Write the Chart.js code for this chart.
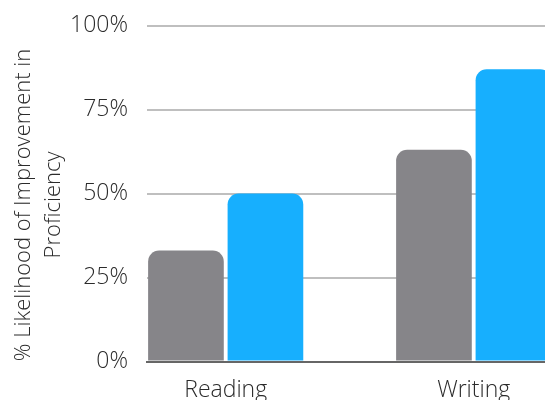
<!DOCTYPE html>
<html>
<head>
<meta charset="utf-8">
<script src="https://cdn.jsdelivr.net/npm/chart.js@4"></script>
<style>
  html, body { margin: 0; padding: 0; overflow: hidden; background: #fff; }
  #wrap { width: 545px; height: 400px; overflow: hidden; }
</style>
</head>
<body>
<div id="wrap"><canvas id="chart" width="600" height="400"></canvas></div>
<script>
// categories and values
const categories = ['Reading', 'Writing'];
const grayValues = [33, 63];
const blueValues = [50, 87];
const yTicks = [0, 25, 50, 75, 100];

const textColor = '#2b2b2b';
const fontFamily = '"Open Sans", "Noto Sans", sans-serif';

// bars sit on a linear x axis so the plot can start at the y axis
const toPoints = vals => vals.map((v, i) => ({ x: i, y: v }));

new Chart(document.getElementById('chart'), {
    type: 'bar',
    data: {
        datasets: [
            {
                label: 'Group A',
                data: toPoints(grayValues),
                backgroundColor: '#868589',
                borderRadius: 11,
                borderSkipped: 'bottom'
            },
            {
                label: 'Group B',
                data: toPoints(blueValues),
                backgroundColor: '#17AFFE',
                borderRadius: 11,
                borderSkipped: 'bottom'
            }
        ]
    },
    options: {
        responsive: false,
        animation: false,
        categoryPercentage: 0.641,
        barPercentage: 0.952,
        layout: { padding: { top: 25.5, left: 0, right: 0, bottom: 0 } },
        plugins: {
            legend: { display: false },
            tooltip: { enabled: false }
        },
        scales: {
            x: {
                type: 'linear',
                offset: false,
                min: -0.3173,
                max: 1.5093,
                grid: { display: false, drawTicks: false, offset: false },
                border: { display: true, color: '#666666', width: 2 },
                afterBuildTicks: scale => {
                    scale.ticks = categories.map((c, i) => ({ value: i }));
                },
                afterFit: scale => { scale.height = 38.5; },
                ticks: {
                    padding: 15,
                    color: textColor,
                    font: { family: fontFamily, size: 23, weight: 300 },
                    callback: value => categories[value]
                }
            },
            y: {
                min: 0,
                max: 100,
                afterBuildTicks: scale => {
                    scale.ticks = yTicks.map(v => ({ value: v }));
                },
                afterFit: scale => {
                    scale.width = 147;
                    // tick padding should not push the plot down
                    scale.paddingTop = 0;
                    scale.paddingBottom = 0;
                },
                grid: {
                    drawTicks: false,
                    lineWidth: 2,
                    color: ctx => ctx.tick && ctx.tick.value === 0 ? 'rgba(0,0,0,0)' : '#BFBFBF'
                },
                border: { display: false },
                ticks: {
                    padding: 19,
                    color: textColor,
                    font: { family: fontFamily, size: 23, weight: 300 },
                    callback: value => value + '%'
                },
                title: {
                    display: true,
                    // trailing spaces nudge the title down to where it sits in the original
                    text: ['% Likelihood of Improvement in    ', 'Proficiency    '],
                    color: textColor,
                    padding: { top: 8.5, bottom: 0 },
                    font: { family: fontFamily, size: 22, weight: 300, lineHeight: 30 / 22 }
                }
            }
        }
    }
});
</script>
</body>
</html>
